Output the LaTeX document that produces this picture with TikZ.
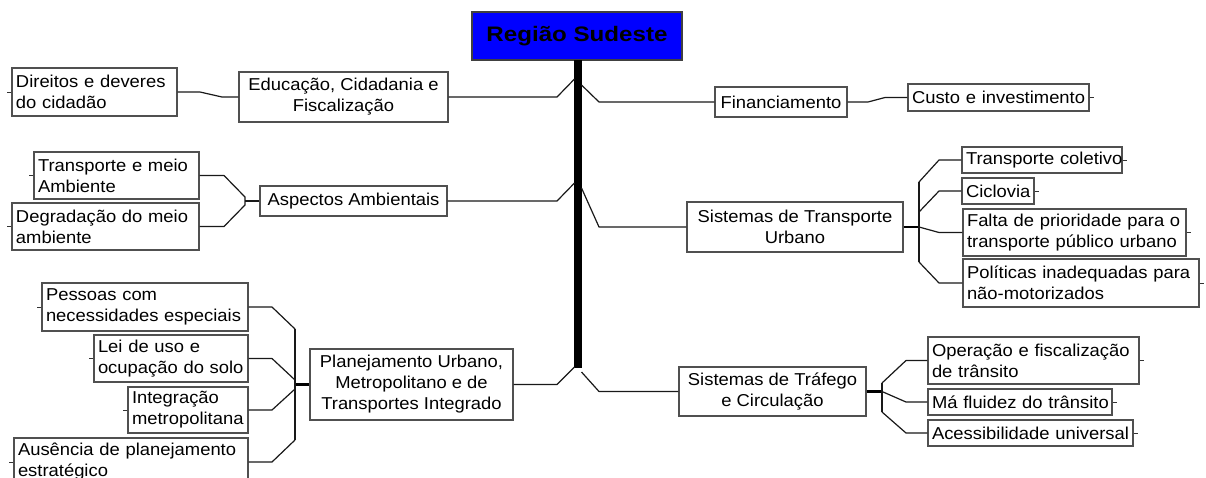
\documentclass[tikz,border=0pt]{standalone}
\usepackage{fontspec}
\setmainfont{Liberation Sans}[FakeStretch=1.07]
\newfontfamily\titlefont{Liberation Sans}[FakeStretch=1.15]
\definecolor{boxgray}{RGB}{80,80,80}
\definecolor{titleblue}{RGB}{0,0,255}
\newcommand\bodyfont{\fontsize{17.2}{21}\selectfont}
\tikzset{
  lbox/.style={draw=boxgray, line width=1.1pt, inner xsep=4pt, inner ysep=0pt, align=left, font=\bodyfont},
  cbox/.style={draw=boxgray, line width=1.1pt, inner xsep=4pt, inner ysep=0pt, align=center, font=\bodyfont},
  conn/.style={draw=black!90, line width=1.2pt, line join=round},
  thickconn/.style={draw=black, line width=2.6pt},
  tickmark/.style={draw=black!80, line width=1pt},
}
\begin{document}
\begin{tikzpicture}[x=1pt,y=-1pt]
\useasboundingbox (0,0) rectangle (1206,477);
\fill[white] (0,0) rectangle (1206,477);
\clip (0,0) rectangle (1206,477);

% title
\node[draw=black!75, line width=1.2pt, fill=titleblue, minimum width=210pt, minimum height=48pt, inner sep=0pt,
      font=\titlefont\fontsize{21}{25}\selectfont\bfseries] (T) at (577,36) {Região Sudeste};

% trunk
\coordinate (trtop) at (578,60);
\coordinate (trbot) at (578,368);
\draw[line width=8pt] (trtop) -- (trbot);
\coordinate (tL1) at (574.5,79);
\coordinate (tR1) at (581.5,85);
\coordinate (tL2) at (574.5,183);
\coordinate (tR2) at (581.5,188);
\coordinate (tL3) at (574.5,367);
\coordinate (tR3) at (581.5,372);

% left main branches
\node[cbox, minimum width=209pt, minimum height=50pt] (edu) at (343.5,97) {Educação, Cidadania e\\Fiscalização};
\node[cbox, minimum width=187pt, minimum height=30pt] (asp) at (353.5,201) {Aspectos Ambientais};
\node[cbox, minimum width=203pt, minimum height=71pt] (plan) at (411.5,384.5) {Planejamento Urbano,\\Metropolitano e de\\Transportes Integrado};

% left leaves
\node[lbox, text width=157pt, minimum height=48pt] (dir) at (94.5,92) {\mbox{Direitos e deveres}\\\mbox{do cidadão}};
\node[lbox, text width=157pt, minimum height=47pt] (tma) at (116.5,175.5) {\mbox{Transporte e meio}\\\mbox{Ambiente}};
\node[lbox, text width=179pt, minimum height=47pt] (deg) at (105.5,226.5) {\mbox{Degradação do meio}\\\mbox{ambiente}};
\node[lbox, text width=198pt, minimum height=48pt] (pes) at (145,307) {\mbox{Pessoas com}\\\mbox{necessidades especiais}};
\node[lbox, text width=146pt, minimum height=47pt] (lei) at (171,358.5) {\mbox{Lei de uso e}\\\mbox{ocupação do solo}};
\node[lbox, text width=112pt, minimum height=46pt] (int) at (188,410) {\mbox{Integração}\\\mbox{metropolitana}};
\node[lbox, text width=226pt, minimum height=48pt] (aus) at (131,462) {\mbox{Ausência de planejamento}\\\mbox{estratégico}};

% right main branches
\node[cbox, minimum width=132pt, minimum height=30pt] (fin) at (781,102) {Financiamento};
\node[cbox, minimum width=216pt, minimum height=50pt] (stu) at (795,227) {Sistemas de Transporte\\Urbano};
\node[cbox, minimum width=187pt, minimum height=49pt] (stc) at (772.5,391.5) {Sistemas de Tráfego\\e Circulação};

% right leaves
\node[lbox, text width=173pt, minimum height=27pt] (cus) at (998.5,97.5) {\mbox{Custo e investimento}};
\node[lbox, text width=152pt, minimum height=26pt] (tc) at (1042,160) {\mbox{Transporte coletivo}};
\node[lbox, text width=64pt, minimum height=26pt] (cic) at (998,191) {\mbox{Ciclovia}};
\node[lbox, text width=215pt, minimum height=47pt] (fal) at (1074.5,232.5) {\mbox{Falta de prioridade para o}\\\mbox{transporte público urbano}};
\node[lbox, text width=228pt, minimum height=48pt] (pol) at (1081,283) {\mbox{Políticas inadequadas para}\\\mbox{não-motorizados}};
\node[lbox, text width=203pt, minimum height=47pt] (op) at (1033.5,360.5) {\mbox{Operação e fiscalização}\\\mbox{de trânsito}};
\node[lbox, text width=176pt, minimum height=26pt] (ma) at (1020,402) {\mbox{Má fluidez do trânsito}};
\node[lbox, text width=197pt, minimum height=26pt] (ace) at (1030.5,433) {\mbox{Acessibilidade universal}};

% trunk connectors
\draw[conn] (edu.east) -- (557,97) -- (tL1);
\draw[conn] (asp.east) -- (557,201) -- (tL2);
\draw[conn] (plan.east) -- (557,384.5) -- (tL3);
\draw[conn] (tR1) -- (599,102) -- (fin.west);
\draw[conn] (tR2) -- (599,227) -- (stu.west);
\draw[conn] (tR3) -- (599,391.5) -- (stc.west);

% Educacao sub
\draw[conn] (dir.east) -- (200,92) -- (222,97) -- (edu.west);
% Aspectos fork
\draw[conn] (asp.west) -- (245,201);
\draw[conn] (tma.east) -- (224,175.5) -- (245,197) -- (245,205) -- (224,226.5) -- (deg.east);
% Planejamento fork
\draw[thickconn] (plan.west) -- (295,384.5);
\draw[conn] (295,329) -- (295,440);
\draw[conn] (pes.east) -- (272,307) -- (295,329);
\draw[conn] (lei.east) -- (272,358.5) -- (295,380);
\draw[conn] (int.east) -- (272,410) -- (295,389);
\draw[conn] (aus.east) -- (272,462) -- (295,440);
% Financiamento sub
\draw[conn] (fin.east) -- (868,102) -- (885,97.5) -- (cus.west);
% STU fork
\draw[thickconn] (stu.east) -- (919,227);
\draw[conn] (919,182) -- (919,262);
\draw[conn] (919,182) -- (939,160) -- (tc.west);
\draw[conn] (919,212) -- (939,191) -- (cic.west);
\draw[conn] (919,227) -- (939,232.5) -- (fal.west);
\draw[conn] (919,262) -- (939,283) -- (pol.west);
% STC fork
\draw[thickconn] (stc.east) -- (882,391.5);
\draw[conn] (882,383) -- (882,412);
\draw[conn] (882,383) -- (906,360.5) -- (op.west);
\draw[conn] (882,391.5) -- (906,402) -- (ma.west);
\draw[conn] (882,412) -- (906,433) -- (ace.west);

% ticks
\foreach \n in {dir,tma,deg,pes,lei,int,aus}{\draw[tickmark] (\n.west) -- ++(-4,0);}
\foreach \n in {cus,tc,cic,fal,pol,op,ma,ace}{\draw[tickmark] (\n.east) -- ++(4,0);}
\end{tikzpicture}
\end{document}
